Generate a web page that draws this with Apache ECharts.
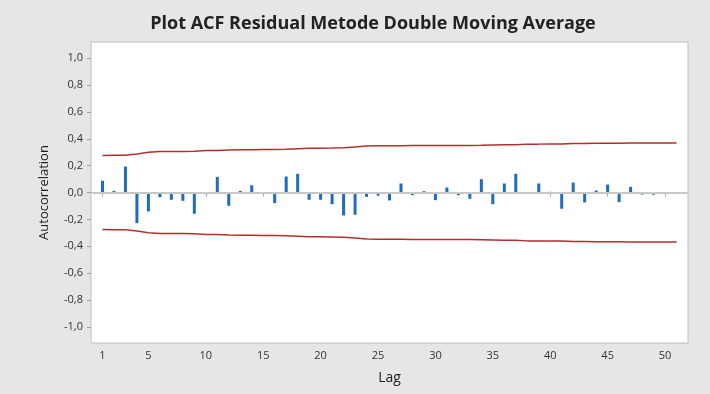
<!DOCTYPE html>
<html>
<head>
<meta charset="utf-8">
<script src="https://cdn.jsdelivr.net/npm/echarts@6/dist/echarts.min.js"></script>
<style>
html,body{margin:0;padding:0;background:#e6e6e6;}
#c{width:710px;height:394px;}
</style>
</head>
<body>
<div id="c"></div>
<script>
const lags = [1,2,3,4,5,6,7,8,9,10,11,12,13,14,15,16,17,18,19,20,21,22,23,24,25,26,27,28,29,30,31,32,33,34,35,36,37,38,39,40,41,42,43,44,45,46,47,48,49,50,51];
const acf = [0.087,0.012,0.193,-0.228,-0.141,-0.035,-0.054,-0.062,-0.158,-0.012,0.116,-0.099,0.012,0.054,0.0,-0.079,0.119,0.139,-0.054,-0.054,-0.087,-0.171,-0.166,-0.032,-0.022,-0.059,0.067,-0.020,0.010,-0.057,0.037,-0.020,-0.047,0.099,-0.087,0.067,0.139,0.0,0.067,0.005,-0.121,0.074,-0.074,0.015,0.059,-0.072,0.042,-0.015,-0.017,0.0,0.0];
const upperLimit = [0.275,0.277,0.277,0.287,0.300,0.305,0.306,0.306,0.307,0.313,0.313,0.317,0.319,0.319,0.320,0.320,0.321,0.325,0.329,0.330,0.331,0.333,0.339,0.346,0.347,0.347,0.348,0.349,0.349,0.349,0.350,0.350,0.350,0.351,0.353,0.355,0.356,0.360,0.360,0.361,0.361,0.364,0.365,0.366,0.366,0.367,0.368,0.368,0.368,0.368,0.368];
const lowerLimit = upperLimit.map(v => -v);
const yTicks = [-1.0,-0.8,-0.6,-0.4,-0.2,0.0,0.2,0.4,0.6,0.8,1.0];
const xTicks = [1,5,10,15,20,25,30,35,40,45,50];

const chart = echarts.init(document.getElementById('c'));
const font = 'Open Sans';
chart.setOption({
  backgroundColor: '#e6e6e6',
  animation: false,
  title: {
    text: 'Plot ACF Residual Metode Double Moving Average',
    left: 368, top: 10, textAlign: 'center',
    textStyle: {fontFamily: font, fontSize: 18, fontWeight: 'bold', color: '#222'}
  },
  grid: {left: 91, right: 22, top: 42, bottom: 51, show: true, backgroundColor: '#ffffff', borderColor: '#bdbdbd', borderWidth: 1},
  xAxis: {
    type: 'value', min: 0, max: 52,
    name: 'Lag', nameLocation: 'middle', nameGap: 28,
    nameTextStyle: {fontFamily: font, fontSize: 14, fontWeight: 500, color: '#222'},
    axisLine: {show: false},
    axisTick: {show: true, length: 4, lineStyle: {color: '#a0a0a0'}, customValues: xTicks},
    axisLabel: {fontFamily: font, fontSize: 11, color: '#333', margin: 7, customValues: xTicks},
    splitLine: {show: false}
  },
  yAxis: {
    type: 'value', min: -1.12, max: 1.12,
    name: 'Autocorrelation', nameLocation: 'middle', nameGap: 40, nameRotate: 90,
    nameTextStyle: {fontFamily: font, fontSize: 13, color: '#222'},
    axisLine: {show: false},
    axisTick: {show: true, length: 4, lineStyle: {color: '#a0a0a0'}, customValues: yTicks},
    axisLabel: {fontFamily: font, fontSize: 11, color: '#333', margin: 8, customValues: yTicks,
      formatter: v => v.toFixed(1).replace('.', ',')},
    splitLine: {show: false}
  },
  series: [
    {
      type: 'bar', barWidth: 3,
      data: lags.map((l, i) => [l, acf[i]]),
      itemStyle: {color: '#1f6bbd'},
      markLine: {
        silent: true, symbol: 'none', label: {show: false},
        lineStyle: {color: '#c8c8c8', width: 2, type: 'solid'},
        data: [{yAxis: 0}]
      },
      z: 3
    },
    {
      type: 'line', data: lags.map((l, i) => [l, upperLimit[i]]),
      showSymbol: false, lineStyle: {color: '#b03030', width: 1.5}, itemStyle: {color: '#b03030'}
    },
    {
      type: 'line', data: lags.map((l, i) => [l, lowerLimit[i]]),
      showSymbol: false, lineStyle: {color: '#b03030', width: 1.5}, itemStyle: {color: '#b03030'}
    }
  ]
});
</script>
</body>
</html>
